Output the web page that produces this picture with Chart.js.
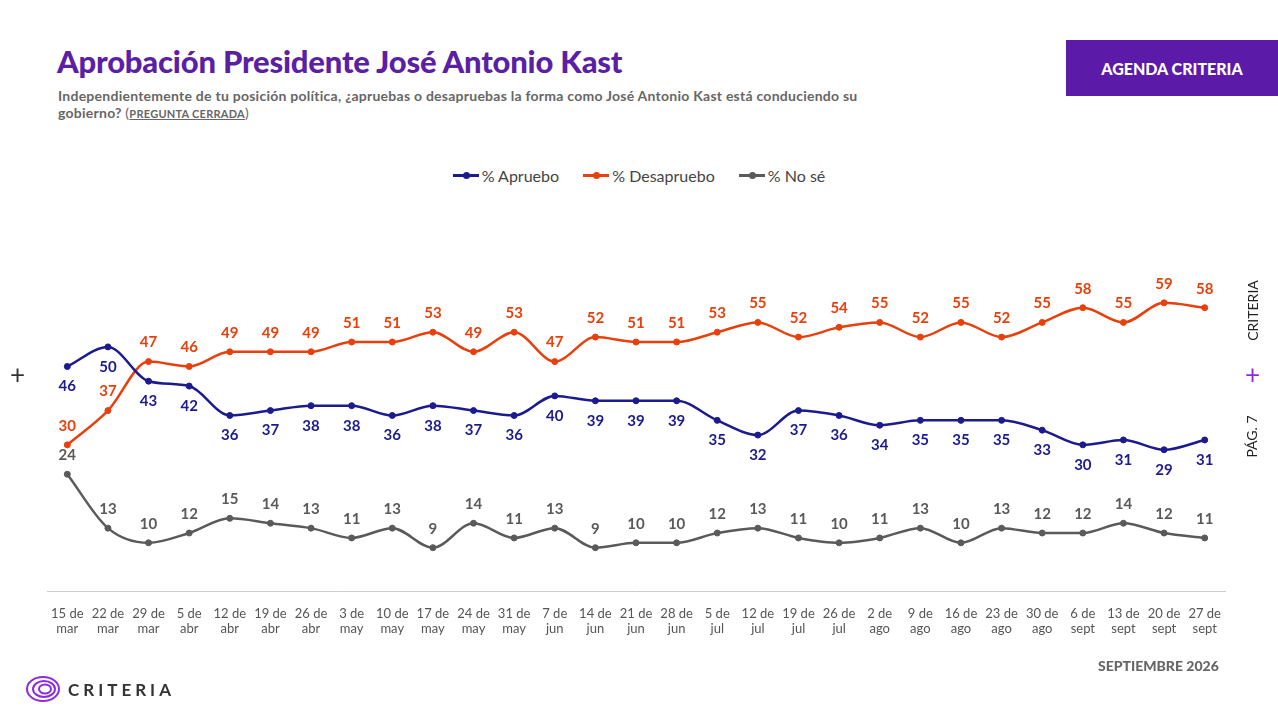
<!DOCTYPE html>
<html><head><meta charset="utf-8">
<script src="https://cdn.jsdelivr.net/npm/chart.js@4"></script>
<style>
body{margin:0;width:1278px;height:716px;background:#fff;font-family:Lato,"Open Sans",sans-serif;position:relative;overflow:hidden}
.abs{position:absolute}
#title{left:57px;top:42px;font-size:31px;font-weight:900;color:#5b1fa6;letter-spacing:-0.2px}
#sub{left:58px;top:87px;font-size:14px;font-weight:700;color:#666;width:840px;line-height:17px;letter-spacing:0.25px}
#sub u{font-size:11px}
#badge{left:1066px;top:40px;width:212px;height:56px;background:#5b1aa8;color:#fff;font-weight:900;font-size:16px;display:flex;align-items:center;justify-content:center}
#legend{left:0;top:161px;width:1278px;text-align:center;font-size:16px;color:#444}
#legend span{margin:0 10px;display:inline-flex;align-items:center}
#legend i{display:inline-block;width:26px;height:3px;position:relative;margin-right:3px}
#legend i b{position:absolute;left:10px;top:-2px;width:7px;height:7px;border-radius:50%}
#cv{left:0;top:0}
.vt{transform:rotate(-90deg);transform-origin:center;font-size:14px;color:#222;white-space:nowrap}
</style></head><body>
<div id="title" class="abs">Aprobación Presidente José Antonio Kast</div>
<div id="sub" class="abs">Independientemente de tu posición política, ¿apruebas o desapruebas la forma como José Antonio Kast está conduciendo su gobierno? <span style="font-weight:400">(</span><u>PREGUNTA CERRADA</u><span style="font-weight:400">)</span></div>
<div id="badge" class="abs">AGENDA CRITERIA</div>
<div id="legend" class="abs">
<span><i style="background:#1b1b8f"><b style="background:#1b1b8f"></b></i>% Apruebo</span>
<span><i style="background:#e8400c"><b style="background:#e8400c"></b></i>% Desapruebo</span>
<span><i style="background:#5a5a5a"><b style="background:#5a5a5a"></b></i>% No sé</span>
</div>
<canvas id="cv" class="abs" width="1278" height="716"></canvas>
<div class="abs" style="left:10px;top:358px;font-size:26px;color:#333">+</div>
<div class="abs" style="left:1245px;top:358px;font-size:26px;color:#8a2be2">+</div>
<div class="abs vt" style="left:1222px;top:302px">CRITERIA</div>
<div class="abs vt" style="left:1230px;top:428px">PÁG. 7</div>
<div class="abs" style="left:1098px;top:657px;font-size:14px;font-weight:900;color:#666">SEPTIEMBRE 2026</div>
<svg class="abs" style="left:24px;top:674px" width="40" height="30">
<g fill="none" stroke="#8a2be2" stroke-width="2"><ellipse cx="19" cy="15" rx="16" ry="12"/><ellipse cx="20" cy="15" rx="11" ry="8"/><ellipse cx="21" cy="15" rx="6" ry="4.5"/></g></svg>
<div class="abs" style="left:68px;top:679px;font-size:17px;letter-spacing:4px;color:#333;font-weight:700">CRITERIA</div>
<script>
const categories=[["15 de","mar"],["22 de","mar"],["29 de","mar"],["5 de","abr"],["12 de","abr"],["19 de","abr"],["26 de","abr"],["3 de","may"],["10 de","may"],["17 de","may"],["24 de","may"],["31 de","may"],["7 de","jun"],["14 de","jun"],["21 de","jun"],["28 de","jun"],["5 de","jul"],["12 de","jul"],["19 de","jul"],["26 de","jul"],["2 de","ago"],["9 de","ago"],["16 de","ago"],["23 de","ago"],["30 de","ago"],["6 de","sept"],["13 de","sept"],["20 de","sept"],["27 de","sept"]];
const apruebo=[46,50,43,42,36,37,38,38,36,38,37,36,40,39,39,39,35,32,37,36,34,35,35,35,33,30,31,29,31];
const desapruebo=[30,37,47,46,49,49,49,51,51,53,49,53,47,52,51,51,53,55,52,54,55,52,55,52,55,58,55,59,58];
const nose=[24,13,10,12,15,14,13,11,13,9,14,11,13,9,10,10,12,13,11,10,11,13,10,13,12,12,14,12,11];
const labelPlugin={id:'lbl',afterDatasetsDraw(c){const ctx=c.ctx;ctx.save();ctx.font='bold 15px Lato';ctx.textAlign='center';ctx.textBaseline='middle';
c.data.datasets.forEach((ds,i)=>{const m=c.getDatasetMeta(i);ctx.fillStyle=ds.lblColor;m.data.forEach((p,j)=>{ctx.fillText(ds.data[j],p.x,p.y+ds.off);});});ctx.restore();}};
Chart.defaults.font.family='Lato';
new Chart(document.getElementById('cv'),{type:'line',
data:{labels:categories,datasets:[
{data:apruebo,borderColor:'#1b1b8f',backgroundColor:'#1b1b8f',lblColor:'#1b1b8f',off:20},
{data:desapruebo,borderColor:'#e8400c',backgroundColor:'#e8400c',lblColor:'#e8400c',off:-19},
{data:nose,borderColor:'#5a5a5a',backgroundColor:'#5a5a5a',lblColor:'#5a5a5a',off:-19}]},
options:{responsive:false,animation:false,devicePixelRatio:1,
layout:{padding:{left:47,right:53,top:102,bottom:73}},
elements:{line:{tension:0.4,borderWidth:2.5,cubicInterpolationMode:'monotone'},point:{radius:3}},
plugins:{legend:{display:false},tooltip:{enabled:false}},
scales:{y:{display:false,min:0,max:100},
x:{offset:true,grid:{display:false},border:{color:'#ccc'},ticks:{color:'#555',font:{size:13},maxRotation:0,autoSkip:false,padding:6}}}},
plugins:[labelPlugin]});
</script>
</body></html>
